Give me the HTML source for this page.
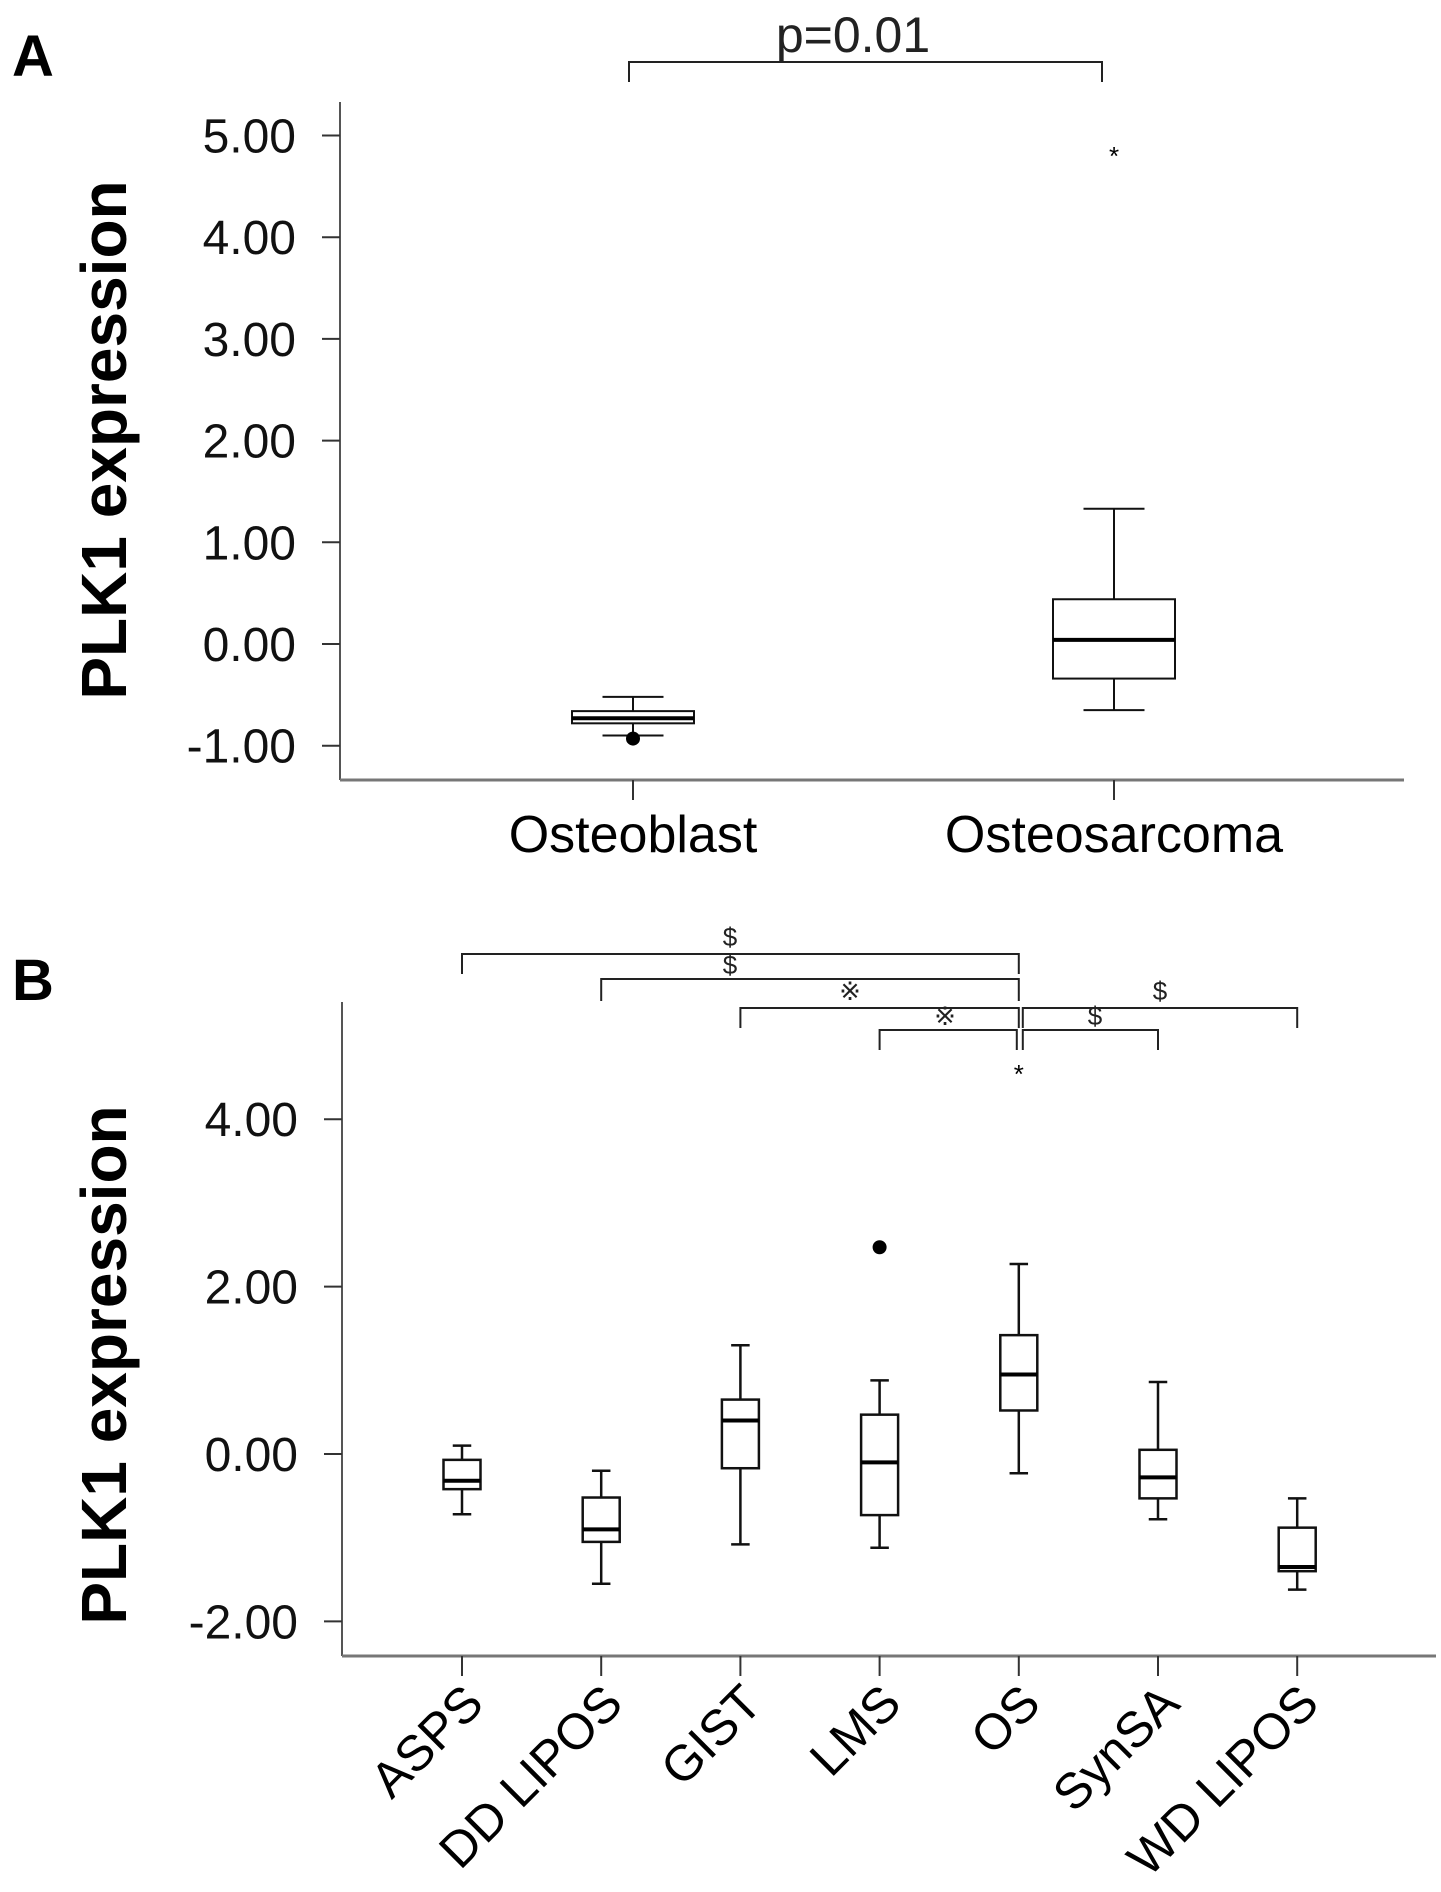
<!DOCTYPE html>
<html><head><meta charset="utf-8"><style>
html,body{margin:0;padding:0;background:#fff;}
svg{display:block;font-family:"Liberation Sans",Arial,sans-serif;}
</style></head><body>
<svg id="fig" width="1441" height="1892" viewBox="0 0 1441 1892">
<text x="12" y="76" font-size="58" font-weight="bold">A</text>
<text x="12" y="1000" font-size="58" font-weight="bold">B</text>
<g id="a"></g>
<g id="b"></g>
</svg>
<script>
const NS="http://www.w3.org/2000/svg";
// Panel A data
const catsA=["Osteoblast","Osteosarcoma"];
const ticksA=[5,4,3,2,1,0,-1];
const tickLabelsA=["5.00","4.00","3.00","2.00","1.00","0.00","-1.00"];
const whiskHiA=[-0.52,1.33];
const q3A=[-0.66,0.44];
const medA=[-0.73,0.04];
const q1A=[-0.78,-0.34];
const whiskLoA=[-0.90,-0.65];
const dotOutA=[-0.93,null];
const starOutA=[null,4.85];
// Panel B data
const catsB=["ASPS","DD LIPOS","GIST","LMS","OS","SynSA","WD LIPOS"];
const ticksB=[4,2,0,-2];
const tickLabelsB=["4.00","2.00","0.00","-2.00"];
const whiskHiB=[0.10,-0.20,1.30,0.88,2.27,0.86,-0.53];
const q3B=[-0.07,-0.52,0.65,0.47,1.42,0.05,-0.88];
const medB=[-0.32,-0.90,0.40,-0.10,0.95,-0.28,-1.35];
const q1B=[-0.42,-1.05,-0.17,-0.73,0.52,-0.53,-1.40];
const whiskLoB=[-0.72,-1.55,-1.08,-1.12,-0.23,-0.78,-1.62];
const dotOutB=[null,null,null,2.47,null,null,null];
const starOutB=[null,null,null,null,4.6,null,null];

function el(parent,tag,attrs,txt){const e=document.createElementNS(NS,tag);for(const k in attrs)e.setAttribute(k,attrs[k]);if(txt!=null)e.textContent=txt;parent.appendChild(e);return e;}

function panel(g,cfg){
  const {y,x,ax,cats,ticks,tl,hi,q3,med,q1,lo,dots,stars,bw,lw,fs,xfs,rot}=cfg;
  let e;
  e=el(g,'line',{x1:ax.x0,y1:ax.yTop,x2:ax.x0,y2:ax.yBot,stroke:'#555','stroke-width':2});
  
  e=el(g,'line',{x1:ax.x0,y1:ax.yBot,x2:ax.x1,y2:ax.yBot,stroke:'#777','stroke-width':3});
  
  ticks.forEach((t,i)=>{
    e=el(g,'line',{x1:ax.x0-18,y1:y(t),x2:ax.x0,y2:y(t),stroke:'#333','stroke-width':2});
    
    e=el(g,'text',{x:ax.x0-44,y:y(t)+17,'font-size':fs,'text-anchor':'end',fill:'#111'},tl[i]);
    
  });
  e=el(g,'text',{x:0,y:0,'font-size':64,'font-weight':'bold','text-anchor':'middle',transform:`translate(${ax.titleX},${ax.titleY}) rotate(-90)`},'PLK1 expression');
  
  cats.forEach((c,i)=>{
    const cx=x(i);
    e=el(g,'line',{x1:cx,y1:ax.yBot,x2:cx,y2:ax.yBot+20,stroke:'#333','stroke-width':2});
    
    if(rot){
      e=el(g,'text',{x:0,y:0,'font-size':xfs,'text-anchor':'end',transform:`translate(${cx+24},${ax.yBot+50}) rotate(-45)`},c);
    } else {
      e=el(g,'text',{x:cx,y:ax.yBot+72,'font-size':xfs,'text-anchor':'middle'},c);
    }
    
    const grp=el(g,'g',{});
    
    
    el(grp,'line',{x1:cx,y1:y(hi[i]),x2:cx,y2:y(q3[i]),stroke:'#111','stroke-width':lw});
    el(grp,'line',{x1:cx,y1:y(q1[i]),x2:cx,y2:y(lo[i]),stroke:'#111','stroke-width':lw});
    el(grp,'line',{x1:cx-bw/4,y1:y(hi[i]),x2:cx+bw/4,y2:y(hi[i]),stroke:'#111','stroke-width':lw});
    el(grp,'line',{x1:cx-bw/4,y1:y(lo[i]),x2:cx+bw/4,y2:y(lo[i]),stroke:'#111','stroke-width':lw});
    el(grp,'rect',{x:cx-bw/2,y:y(q3[i]),width:bw,height:y(q1[i])-y(q3[i]),fill:'#fff',stroke:'#111','stroke-width':lw});
    el(grp,'line',{x1:cx-bw/2,y1:y(med[i]),x2:cx+bw/2,y2:y(med[i]),stroke:'#000','stroke-width':4});
    if(dots[i]!=null){e=el(g,'circle',{cx:cx,cy:y(dots[i]),r:7,fill:'#000'});}
    if(stars[i]!=null){e=el(g,'text',{x:cx,y:y(stars[i])+14,'font-size':26,'text-anchor':'middle'},'*');}
  });
}

// Panel A axes
const yA=v=>644-v*101.7;
const xA=i=>633+i*(1114-633);
panel(document.getElementById('a'),{y:yA,x:xA,ax:{x0:340,x1:1404,yTop:102,yBot:780,titleX:126,titleY:440},cats:catsA,ticks:ticksA,tl:tickLabelsA,hi:whiskHiA,q3:q3A,med:medA,q1:q1A,lo:whiskLoA,dots:dotOutA,stars:starOutA,bw:122,lw:2,fs:48,xfs:52,rot:false});
// Panel B axes
const yB=v=>1454-v*83.7;
const xB=i=>462+i*139.2;
panel(document.getElementById('b'),{y:yB,x:xB,ax:{x0:342,x1:1436,yTop:1002,yBot:1656,titleX:126,titleY:1365},cats:catsB,ticks:ticksB,tl:tickLabelsB,hi:whiskHiB,q3:q3B,med:medB,q1:q1B,lo:whiskLoB,dots:dotOutB,stars:starOutB,bw:37,lw:2.5,fs:48,xfs:50,rot:true});

// significance brackets
function bracket(x1,x2,yy,drop,label,lx,ly,fs){
  const s=document.getElementById('fig');
  const p=el(s,'path',{d:`M${x1},${yy+drop} V${yy} H${x2} V${yy+drop}`,fill:'none',stroke:'#222','stroke-width':2});
  
  
  const t=el(s,'text',{x:lx,y:ly,'font-size':fs,'text-anchor':'middle',fill:'#222'},label);
  
  
}
bracket(629,1102,62,20,'p=0.01',853,52,50);
bracket(xB(0),xB(4),954,20,'$',730,946,26);
bracket(xB(1),xB(4),979,22,'$',730,974,26);
bracket(xB(2),xB(4),1008,20,'※',850,1000,26);
bracket(xB(3),xB(4)-2,1030,20,'※',945,1025,26);
bracket(xB(4)+4,xB(5),1030,20,'$',1095,1025,26);
bracket(xB(4)+4,xB(6),1008,20,'$',1160,1000,26);
</script>
</body></html>
